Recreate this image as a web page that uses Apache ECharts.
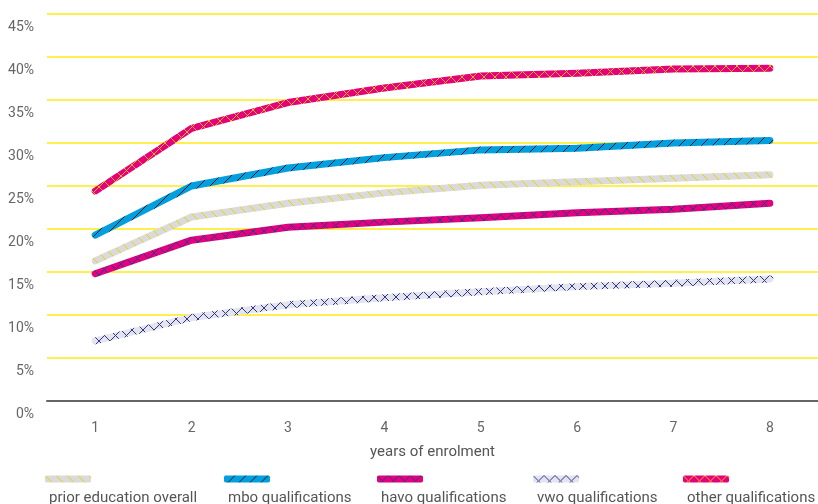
<!DOCTYPE html>
<html>
<head>
<meta charset="utf-8">
<script src="https://cdn.jsdelivr.net/npm/echarts@6/dist/echarts.min.js"></script>
<style>
html,body{margin:0;padding:0;background:#fff;}
#chart{width:818px;height:504px;}
</style>
</head>
<body>
<div id="chart"></div>
<script>
const categories = ['1', '2', '3', '4', '5', '6', '7', '8'];
const seriesNames = ['prior education overall', 'mbo qualifications', 'havo qualifications', 'vwo qualifications', 'other qualifications'];
const priorOverall = [16.3, 21.4, 23.0, 24.2, 25.1, 25.5, 25.9, 26.3];
const mbo = [19.3, 25.0, 27.1, 28.3, 29.2, 29.4, 30.0, 30.3];
const havo = [14.8, 18.7, 20.2, 20.8, 21.3, 21.9, 22.3, 23.0];
const vwo = [7.0, 9.7, 11.2, 12.0, 12.7, 13.3, 13.7, 14.2];
const other = [24.4, 31.7, 34.7, 36.4, 37.8, 38.1, 38.6, 38.7];
const yTicks = [0, 5, 10, 15, 20, 25, 30, 35, 40, 45];

function makePattern(bg, fg, type, s) {
  const c = document.createElement('canvas');
  c.width = s; c.height = s;
  const ctx = c.getContext('2d');
  ctx.fillStyle = bg;
  ctx.fillRect(0, 0, s, s);
  ctx.strokeStyle = fg;
  ctx.lineWidth = 1;
  ctx.beginPath();
  if (type === 'fwd' || type === 'x') {
    ctx.moveTo(-2, s + 2); ctx.lineTo(s + 2, -2);
    ctx.moveTo(-2, 2); ctx.lineTo(2, -2);
    ctx.moveTo(s - 2, s + 2); ctx.lineTo(s + 2, s - 2);
  }
  if (type === 'back' || type === 'x') {
    ctx.moveTo(-2, -2); ctx.lineTo(s + 2, s + 2);
    ctx.moveTo(s - 2, -2); ctx.lineTo(s + 2, 2);
    ctx.moveTo(-2, s - 2); ctx.lineTo(2, s + 2);
  }
  ctx.stroke();
  return { image: c, repeat: 'repeat' };
}

const patterns = [
  makePattern('#dadada', '#e8d200', 'back', 11),
  makePattern('#009fe0', '#1a1a1a', 'fwd', 11),
  makePattern('#e5007e', '#34358f', 'x', 11),
  makePattern('#e4e5ec', '#2e3592', 'x', 11),
  makePattern('#e5007e', '#f5b21a', 'x', 11)
];
const dataArr = [priorOverall, mbo, havo, vwo, other];
const legendLeft = [45, 224, 377, 533, 683];
const FONT = 'Roboto, "Liberation Sans", Arial, sans-serif';

const chart = echarts.init(document.getElementById('chart'), null, { renderer: 'canvas' });

const series = seriesNames.map((name, i) => ({
  name: name,
  type: 'line',
  data: dataArr[i],
  showSymbol: false,
  symbol: 'none',
  smooth: false,
  lineStyle: { color: patterns[i], width: 7, cap: 'round', join: 'round' },
  itemStyle: { color: patterns[i] },
  emphasis: { disabled: true },
  animation: false
}));

const legends = seriesNames.map((name, i) => ({
  left: legendLeft[i],
  top: 441,
  padding: 0,
  orient: 'horizontal',
  icon: 'roundRect',
  itemWidth: 46,
  itemHeight: 7,
  itemGap: 0,
  selectedMode: false,
  data: [{ name: name, itemStyle: { color: patterns[i] } }],
  formatter: n => '\n' + n,
  textStyle: {
    color: '#555',
    fontFamily: FONT,
    fontSize: 15,
    lineHeight: 38,
    padding: [0, 0, 0, -47]
  }
}));

chart.setOption({
  animation: false,
  backgroundColor: '#fff',
  grid: { left: 47, right: 0, top: 14, bottom: 103, containLabel: false },
  legend: legends,
  xAxis: {
    type: 'category',
    data: categories,
    boundaryGap: true,
    name: 'years of enrolment',
    nameLocation: 'middle',
    nameGap: 44,
    nameTextStyle: { color: '#555', fontFamily: FONT, fontSize: 15 },
    axisLine: { lineStyle: { color: '#666', width: 2 } },
    axisTick: { show: false },
    axisLabel: { color: '#666', fontFamily: FONT, fontSize: 14, margin: 20 },
    splitLine: { show: false }
  },
  yAxis: {
    type: 'value',
    min: yTicks[0],
    max: yTicks[yTicks.length - 1],
    interval: 5,
    axisLine: { show: false },
    axisTick: { show: false },
    axisLabel: {
      color: '#666', fontFamily: FONT, fontSize: 14, margin: 13,
      verticalAlign: 'top', padding: [6, 0, 0, 0],
      formatter: v => v + '%'
    },
    splitLine: { lineStyle: { color: '#fff04f', width: 2 } }
  },
  series: series
});
</script>
</body>
</html>
